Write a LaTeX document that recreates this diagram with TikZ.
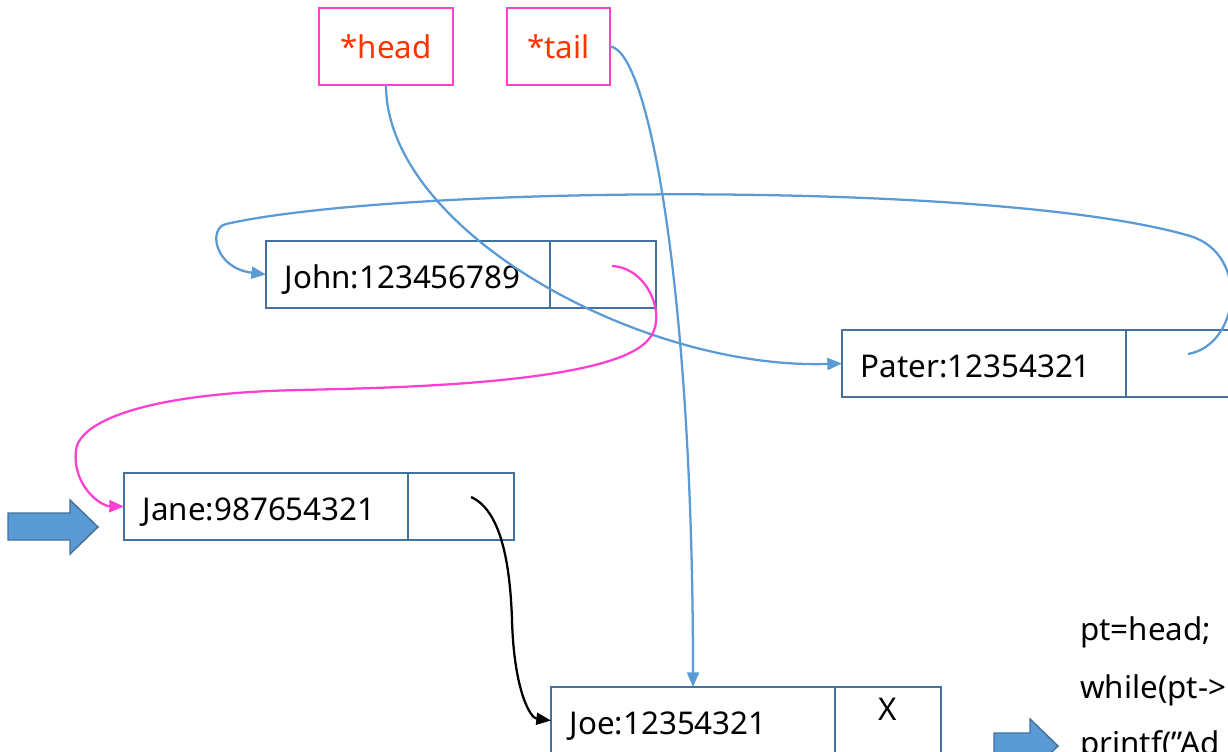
\documentclass[tikz,border=0pt]{standalone}
\usepackage{fontspec}
\setmainfont{Noto Sans}
\usetikzlibrary{arrows.meta}
\definecolor{nodeblue}{HTML}{41719C}
\definecolor{linkblue}{HTML}{5B9BD5}
\definecolor{pinkbox}{HTML}{FF40C8}
\definecolor{redtext}{HTML}{FF3300}
\definecolor{magline}{HTML}{FF3FD2}
\tikzset{
  txt/.style={font=\fontsize{23.5}{27}\selectfont, text=black},
  datafield/.style={draw=nodeblue, line width=1.6pt, outer sep=0pt, anchor=north west,
    minimum width=213pt, minimum height=50.25pt, text width=185pt, inner xsep=14pt,
    align=left, txt, text height=21pt, text depth=0pt},
  ptrfield/.style={draw=nodeblue, line width=1.6pt, outer sep=0pt, anchor=north west,
    minimum width=79.5pt, minimum height=50.25pt},
  ptrbox/.style={draw=pinkbox, line width=1.1pt, outer sep=0pt, minimum height=57.75pt,
    inner sep=0pt, font=\fontsize{23.5}{27}\selectfont, text=redtext},
  tip/.style={-{Triangle[length=11pt,width=9pt]}},
  link/.style={draw=linkblue, line width=1.7pt, tip},
  maglink/.style={draw=magline, line width=1.7pt, tip},
  blklink/.style={draw=black, line width=1.7pt, tip},
  blockarrow/.style={fill=linkblue, draw=nodeblue, line width=1.1pt, line join=miter},
  code/.style={anchor=west, txt, inner sep=0pt}
}
\begin{document}
\begin{tikzpicture}[x=0.75pt,y=-0.75pt]
\useasboundingbox (0,0) rectangle (1228,752);
\clip (0,0) rectangle (1228,752);

% pointer boxes
\node[ptrbox, minimum width=100.5pt] (head) at (386,46.5) {*head};
\node[ptrbox, minimum width=77.25pt] (tail) at (558.5,46.5) {*tail};

% list nodes
\node[datafield] (john) at (266,241) {John:123456789};
\node[ptrfield] (johnp) at (john.north east) {};
\node[datafield] (pater) at (842,330) {Pater:12354321};
\node[ptrfield] (paterp) at (pater.north east) {};
\node[datafield] (jane) at (124,473) {Jane:987654321};
\node[ptrfield] (janep) at (jane.north east) {};
\node[datafield] (joe) at (551,687) {Joe:12354321};
\node[ptrfield] (joep) at (joe.north east) {};
\node[txt, inner sep=0pt] (joex) at (888,709) {X};

% pointer origins
\coordinate (johnpt) at (612,266);
\coordinate (paterpt) at (1188,354);
\coordinate (janept) at (471,497);

% connectors
\draw[link] (head.south) .. controls (386,230) and (640,370) .. (pater.west);
\draw[link] (tail.east) .. controls (650,50) and (693,300) .. (joe.north);
\draw[link] (paterpt) .. controls (1240,345) and (1250,254) .. (1190,236)
  .. controls (1000,180) and (400,185) .. (226,224)
  .. controls (208,228) and (214,268) .. (john.west);
\draw[maglink] (johnpt) .. controls (650,268) and (668,320) .. (648,340)
  .. controls (610,385) and (380,388) .. (300,390)
  .. controls (150,393) and (80,420) .. (76,450)
  .. controls (72,485) and (100,506) .. (jane.west);
\draw[blklink] (janept) .. controls (500,510) and (510,560) .. (512,620)
  .. controls (514,690) and (530,718) .. (joe.west);

% block arrows
\draw[blockarrow] (8,513) -- (70,513) -- (70,500) -- (98,527) -- (70,554) -- (70,540) -- (8,540) -- cycle;
\draw[blockarrow] (994,733) -- (1030,733) -- (1030,719) -- (1058,746) -- (1030,773) -- (1030,760) -- (994,760) -- cycle;

% code text
\node[code] (c1) at (1080,632) {pt=head;};
\node[code] (c2) at (1080,690) {while(pt->};
\node[code] (c3) at (1080,746) {printf(\symbol{34}Ad};
\end{tikzpicture}
\end{document}
